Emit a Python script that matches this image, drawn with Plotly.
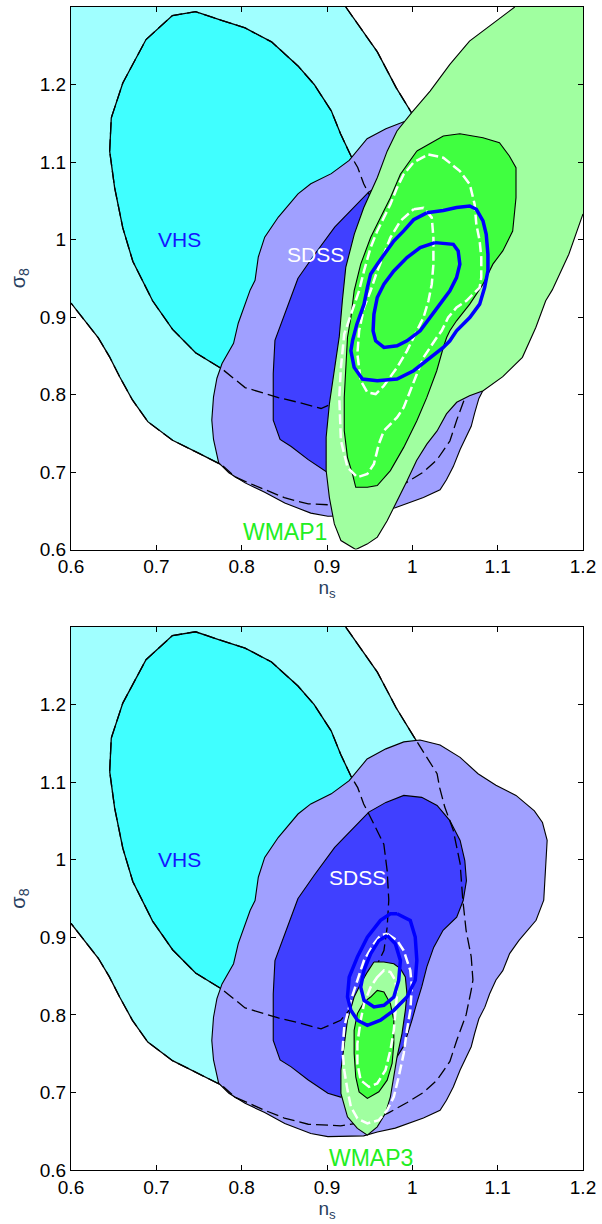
import plotly.graph_objects as go

# ---------------- data (n_s, sigma_8) ----------------
X_TICKS = [0.6, 0.7, 0.8, 0.9, 1.0, 1.1, 1.2]
X_TICK_TEXT = ["0.6", "0.7", "0.8", "0.9", "1", "1.1", "1.2"]
Y_TICKS = [0.6, 0.7, 0.8, 0.9, 1.0, 1.1, 1.2]
Y_TICK_TEXT = ["0.6", "0.7", "0.8", "0.9", "1", "1.1", "1.2"]

# VHS outer (open contour: from top edge to left edge)
VHS_OUTER = [(0.922, 1.300), (0.949, 1.258), (0.959, 1.242), (0.971, 1.217), (0.981, 1.196),
             (1.001, 1.160), (1.029, 1.111), (1.032, 1.093), (1.038, 1.068), (1.048, 1.038),
             (1.056, 0.995), (1.059, 0.950), (1.063, 0.909), (1.069, 0.875), (1.071, 0.845),
             (1.069, 0.832), (1.063, 0.800), (1.052, 0.767), (1.044, 0.740), (1.029, 0.716),
             (1.013, 0.700), (0.994, 0.687), (0.971, 0.673), (0.945, 0.662), (0.916, 0.657),
             (0.878, 0.659), (0.866, 0.662), (0.850, 0.667), (0.827, 0.677), (0.808, 0.686),
             (0.792, 0.694), (0.777, 0.709), (0.750, 0.724), (0.719, 0.741), (0.690, 0.765),
             (0.672, 0.793), (0.657, 0.823), (0.645, 0.849), (0.632, 0.873), (0.600, 0.918)]
VHS_OUTER_CORNER = (0.6, 1.3)

VHS_INNER = [(0.6453, 1.114), (0.6472, 1.157), (0.6607, 1.202), (0.6879, 1.258), (0.7188, 1.289),
             (0.746, 1.294), (0.773, 1.284), (0.804, 1.273), (0.835, 1.255), (0.866, 1.224),
             (0.885, 1.200), (0.905, 1.166), (0.916, 1.136), (0.928, 1.108), (0.936, 1.093),
             (0.943, 1.072), (0.955, 1.046), (0.9666, 1.020), (0.9705, 0.986), (0.9724, 0.948),
             (0.9705, 0.913), (0.9667, 0.883), (0.952, 0.850), (0.933, 0.815), (0.916, 0.793),
             (0.893, 0.782), (0.866, 0.790), (0.843, 0.796), (0.804, 0.809), (0.777, 0.833),
             (0.746, 0.854), (0.719, 0.884), (0.6956, 0.921), (0.6724, 0.972), (0.6607, 1.015),
             (0.6511, 1.067), (0.6453, 1.114)]

SDSS_OUTER = [(0.843, 1.029), (0.866, 1.059), (0.881, 1.072), (0.905, 1.085), (0.926, 1.102),
              (0.947, 1.130), (0.969, 1.143), (0.990, 1.152), (1.009, 1.1545), (1.0325, 1.148),
              (1.056, 1.132), (1.077, 1.111), (1.098, 1.096), (1.1215, 1.083), (1.143, 1.063),
              (1.1525, 1.048), (1.158, 1.025), (1.156, 0.986), (1.154, 0.948), (1.145, 0.922),
              (1.125, 0.896), (1.114, 0.879), (1.106, 0.857), (1.098, 0.845), (1.0905, 0.827),
              (1.085, 0.810), (1.078, 0.795), (1.073, 0.776), (1.069, 0.759), (1.056, 0.729),
              (1.048, 0.707), (1.040, 0.690), (1.0325, 0.677), (1.013, 0.667), (0.994, 0.660),
              (0.980, 0.654), (0.959, 0.649), (0.943, 0.644), (0.901, 0.643), (0.881, 0.647),
              (0.8505, 0.660), (0.827, 0.674), (0.804, 0.686), (0.785, 0.699), (0.773, 0.712),
              (0.767, 0.742), (0.765, 0.767), (0.767, 0.797), (0.771, 0.821), (0.777, 0.840),
              (0.7905, 0.866), (0.796, 0.892), (0.810, 0.935), (0.8157, 0.9475), (0.8195, 0.9775),
              (0.827, 1.003), (0.843, 1.029)]

SDSS_INNER = [(0.866, 0.950), (0.885, 0.980), (0.909, 1.016), (0.928, 1.038), (0.949, 1.0615),
              (0.969, 1.074), (0.990, 1.083), (1.011, 1.0805), (1.029, 1.070), (1.044, 1.0505),
              (1.056, 1.025), (1.0615, 0.999), (1.0634, 0.973), (1.0596, 0.9475), (1.052, 0.926),
              (1.036, 0.909), (1.025, 0.887), (1.017, 0.862), (1.011, 0.836), (1.005, 0.8145),
              (0.9995, 0.793), (0.990, 0.760), (0.972, 0.728), (0.948, 0.705), (0.916, 0.694),
              (0.901, 0.699), (0.878, 0.716), (0.858, 0.733), (0.845, 0.742), (0.837, 0.767),
              (0.837, 0.827), (0.839, 0.870), (0.8505, 0.905), (0.866, 0.950)]

# WMAP1 (top panel); outer contour is open: from right edge round the bottom to the top edge
WMAP1_OUTER = [(1.2, 1.033), (1.1834, 0.981), (1.164, 0.935), (1.1563, 0.921), (1.1447, 0.8865),
               (1.129, 0.848), (1.106, 0.823), (1.083, 0.805), (1.067, 0.7985), (1.052, 0.790),
               (1.040, 0.775), (1.029, 0.753), (1.017, 0.736), (1.005, 0.715), (0.994, 0.689),
               (0.982, 0.663), (0.9705, 0.637), (0.959, 0.616), (0.947, 0.607), (0.9337, 0.600),
               (0.9163, 0.6116), (0.9086, 0.633), (0.9028, 0.667), (0.899, 0.702), (0.899, 0.745),
               (0.9028, 0.788), (0.9086, 0.831), (0.9144, 0.875), (0.918, 0.921), (0.922, 0.964),
               (0.932, 1.007), (0.943, 1.041), (0.959, 1.080), (0.9705, 1.114), (0.982, 1.140),
               (0.9995, 1.164), (1.0208, 1.1915), (1.044, 1.226), (1.067, 1.256), (1.098, 1.282),
               (1.12, 1.300)]
WMAP1_OUTER_CORNER = (1.2, 1.3)

WMAP1_INNER = [(1.0053, 1.1142), (1.0363, 1.1335), (1.0557, 1.1365), (1.0828, 1.1314), (1.1021, 1.1249),
               (1.1137, 1.1077), (1.1215, 1.0926), (1.1215, 1.054), (1.1176, 1.011), (1.106, 0.9853),
               (1.0944, 0.9682), (1.0828, 0.9424), (1.0673, 0.9166), (1.0518, 0.8951), (1.044, 0.8822),
               (1.0402, 0.8736), (1.0363, 0.8607), (1.0286, 0.8307), (1.017, 0.7963), (1.0053, 0.7662),
               (0.9899, 0.7318), (0.9743, 0.7018), (0.9589, 0.6825), (0.9473, 0.6803), (0.9337, 0.6803),
               (0.9298, 0.6976), (0.924, 0.719), (0.9202, 0.7534), (0.9202, 0.7963), (0.922, 0.8393),
               (0.924, 0.8736), (0.928, 0.8994), (0.9318, 0.9338), (0.9395, 0.9682), (0.9511, 1.0025),
               (0.9627, 1.0283), (0.9743, 1.054), (0.986, 1.0842), (1.0053, 1.1142)]

WMAP1_WHITE_OUTER = [(1.0188, 1.1097), (1.0363, 1.1056), (1.0557, 1.0884), (1.0673, 1.0713), (1.073, 1.0455),
                     (1.075, 1.0197), (1.0789, 0.9982), (1.0808, 0.9767), (1.0808, 0.951), (1.0789, 0.938),
                     (1.0634, 0.9209), (1.0518, 0.9123), (1.042, 0.8994), (1.0344, 0.8822), (1.0286, 0.8736),
                     (1.0208, 0.8607), (1.0131, 0.8478), (1.0053, 0.8264), (0.9976, 0.8049), (0.9899, 0.7834),
                     (0.9821, 0.7705), (0.9667, 0.7534), (0.9608, 0.7362), (0.955, 0.7104), (0.9473, 0.6976),
                     (0.9356, 0.6932), (0.924, 0.7061), (0.9163, 0.7405), (0.9144, 0.7963), (0.9163, 0.835),
                     (0.9202, 0.878), (0.9298, 0.908), (0.9376, 0.9338), (0.9434, 0.9595), (0.9511, 0.9896),
                     (0.9589, 1.0111), (0.9667, 1.0283), (0.9743, 1.0455), (0.9821, 1.067), (0.9899, 1.0842),
                     (1.0015, 1.0997), (1.0188, 1.1097)]

WMAP1_WHITE_INNER = [(1.0015, 1.039), (1.0131, 1.0408), (1.0228, 1.0283), (1.0247, 1.0025), (1.0247, 0.9682),
                     (1.0228, 0.9424), (1.0189, 0.9209), (1.0131, 0.8994), (1.0053, 0.8822), (1.0015, 0.8736),
                     (0.9937, 0.8564), (0.9821, 0.8349), (0.9667, 0.8113), (0.957, 0.8006), (0.9473, 0.8027),
                     (0.9395, 0.8178), (0.9356, 0.8522), (0.9376, 0.8822), (0.9434, 0.9123), (0.9511, 0.9338),
                     (0.9589, 0.9595), (0.9667, 0.981), (0.9743, 1.0025), (0.986, 1.024), (1.0015, 1.039)]

WMAP1_BLUE_OUTER = [(1.0169, 1.0344), (1.0363, 1.0374), (1.0518, 1.0412), (1.0673, 1.0433), (1.075, 1.039),
                    (1.0828, 1.024), (1.0866, 1.0068), (1.0886, 0.981), (1.0886, 0.9595), (1.0847, 0.938),
                    (1.0789, 0.9166), (1.0673, 0.8994), (1.0518, 0.8822), (1.044, 0.8693), (1.0363, 0.8607),
                    (1.0208, 0.8478), (1.0015, 0.8307), (0.9821, 0.820), (0.9589, 0.8178), (0.9415, 0.820),
                    (0.9318, 0.835), (0.928, 0.8564), (0.930, 0.870), (0.935, 0.8908), (0.9434, 0.9166),
                    (0.9473, 0.938), (0.9511, 0.9553), (0.9589, 0.9682), (0.9667, 0.981), (0.9783, 0.9982),
                    (0.9899, 1.0111), (1.0015, 1.0255), (1.0169, 1.0344)]

WMAP1_BLUE_INNER = [(1.0266, 0.996), (1.048, 0.9938), (1.0537, 0.9853), (1.0557, 0.9682), (1.0518, 0.9509),
                    (1.044, 0.9338), (1.0324, 0.9166), (1.0208, 0.8994), (1.0092, 0.8822), (0.9937, 0.8693),
                    (0.9821, 0.8629), (0.9667, 0.8607), (0.957, 0.8693), (0.954, 0.8822), (0.955, 0.9037),
                    (0.9589, 0.9252), (0.9667, 0.9424), (0.9783, 0.9595), (0.9937, 0.9767), (1.0092, 0.9896),
                    (1.0266, 0.996)]

# WMAP3 (bottom panel)
WMAP3_OUTER = [(0.955, 0.8681), (0.9667, 0.8681), (0.9783, 0.866), (0.986, 0.8596), (0.9918, 0.8488),
               (0.9937, 0.8274), (0.9918, 0.8059), (0.9879, 0.7759), (0.9821, 0.7458), (0.9783, 0.7201),
               (0.9743, 0.6943), (0.9685, 0.673), (0.9589, 0.6557), (0.9473, 0.645), (0.9356, 0.6537),
               (0.924, 0.6686), (0.9163, 0.6987), (0.9163, 0.7287), (0.9202, 0.7631), (0.924, 0.7931),
               (0.9318, 0.823), (0.9395, 0.8402), (0.9473, 0.8552), (0.955, 0.8681)]

WMAP3_INNER = [(0.9511, 0.823), (0.9589, 0.8316), (0.9667, 0.8295), (0.9743, 0.8145), (0.9783, 0.7931),
               (0.9783, 0.763), (0.9763, 0.7373), (0.9705, 0.7158), (0.9608, 0.7008), (0.9473, 0.6923),
               (0.9376, 0.7008), (0.9337, 0.7201), (0.9318, 0.7502), (0.9318, 0.7802), (0.9356, 0.8017),
               (0.9434, 0.8167), (0.9511, 0.823)]

WMAP3_WHITE_OUTER = [(0.9705, 0.9046), (0.9821, 0.896), (0.9899, 0.8831), (0.9976, 0.8574), (0.9995, 0.8359),
                     (0.9976, 0.8059), (0.9937, 0.7802), (0.9899, 0.7502), (0.984, 0.7201), (0.9783, 0.6943),
                     (0.9705, 0.6772), (0.9608, 0.6643), (0.9473, 0.6601), (0.9356, 0.6665), (0.928, 0.6815),
                     (0.924, 0.703), (0.9202, 0.7287), (0.9182, 0.7544), (0.9202, 0.7844), (0.928, 0.8188),
                     (0.9356, 0.8445), (0.9434, 0.8703), (0.955, 0.8918), (0.9627, 0.9025), (0.9705, 0.9046)]

WMAP3_WHITE_INNER = [(0.9589, 0.8488), (0.9667, 0.8574), (0.9743, 0.8552), (0.9801, 0.8445), (0.9821, 0.8274),
                     (0.9801, 0.8059), (0.9783, 0.7802), (0.9743, 0.7544), (0.9685, 0.7287), (0.9589, 0.7116),
                     (0.9492, 0.7072), (0.9395, 0.7158), (0.9356, 0.7373), (0.9356, 0.763), (0.9395, 0.7931),
                     (0.9434, 0.8145), (0.9511, 0.8359), (0.9589, 0.8488)]

WMAP3_BLUE_OUTER = [(0.9821, 0.9304), (0.9976, 0.9218), (1.0034, 0.9003), (1.0053, 0.8703), (1.0034, 0.8445),
                    (0.9937, 0.8231), (0.9783, 0.8059), (0.9627, 0.7931), (0.9473, 0.7866), (0.9356, 0.7931),
                    (0.928, 0.8059), (0.924, 0.8231), (0.926, 0.8488), (0.9356, 0.8746), (0.9473, 0.9003),
                    (0.9627, 0.9218), (0.9743, 0.9304), (0.9821, 0.9304)]

WMAP3_BLUE_INNER = [(0.9705, 0.9025), (0.9801, 0.8918), (0.986, 0.8703), (0.984, 0.8445), (0.9783, 0.8231),
                    (0.9667, 0.8124), (0.955, 0.8102), (0.9434, 0.8188), (0.9395, 0.8359), (0.9434, 0.8574),
                    (0.9511, 0.8788), (0.9608, 0.896), (0.9705, 0.9025)]

LABELS_TOP = [("VHS", 0.7266, 1.0, "#1515FF", 21), ("SDSS", 0.886, 0.981, "#FFFFFF", 21),
              ("WMAP1", 0.851, 0.622, "#22EE22", 23)]
LABELS_BOTTOM = [("VHS", 0.7266, 1.0, "#1515FF", 21), ("SDSS", 0.9356, 0.977, "#FFFFFF", 21),
                 ("WMAP3", 0.951, 0.615, "#22EE22", 23)]

# ---------------- styles ----------------
C_VHS_OUT, C_VHS_IN = "#A0FFFF", "#40FFFF"
C_SDSS_OUT, C_SDSS_IN = "#A0A0FF", "#4040FF"
C_WMAP_OUT, C_WMAP_IN = "#A0FFA0", "#40FF40"
FONT = "Liberation Sans, Arial, Helvetica, sans-serif"


def xs(pts):
    return [p[0] for p in pts]


def ys(pts):
    return [p[1] for p in pts]


fig = go.Figure()


def fill(pts, color, xa, ya, outline=True):
    fig.add_trace(go.Scatter(x=xs(pts), y=ys(pts), mode="lines", fill="toself", fillcolor=color,
                             line=dict(color="black" if outline else color, width=1.1 if outline else 0),
                             hoverinfo="skip", showlegend=False, xaxis=xa, yaxis=ya))


def line(pts, color, width, dash, xa, ya):
    fig.add_trace(go.Scatter(x=xs(pts), y=ys(pts), mode="lines",
                             line=dict(color=color, width=width, dash=dash),
                             hoverinfo="skip", showlegend=False, xaxis=xa, yaxis=ya))


def panel(xa, ya, wout, win, wout_corner, white_out, white_in, blue_out, blue_in):
    # VHS
    fill(VHS_OUTER + [VHS_OUTER_CORNER], C_VHS_OUT, xa, ya, outline=False)
    fill(VHS_INNER, C_VHS_IN, xa, ya, outline=False)
    line(VHS_OUTER, "black", 1.3, "solid", xa, ya)
    line(VHS_INNER, "black", 1.3, "solid", xa, ya)
    # SDSS
    fill(SDSS_OUTER, C_SDSS_OUT, xa, ya)
    fill(SDSS_INNER, C_SDSS_IN, xa, ya)
    # hidden VHS contours dashed
    line(VHS_OUTER, "black", 1.3, "12px,5px", xa, ya)
    line(VHS_INNER, "black", 1.3, "12px,5px", xa, ya)
    # WMAP
    if wout_corner is not None:
        fill(wout + [wout_corner], C_WMAP_OUT, xa, ya, outline=False)
        line(wout, "black", 1.1, "solid", xa, ya)
    else:
        fill(wout, C_WMAP_OUT, xa, ya)
    fill(win, C_WMAP_IN, xa, ya)
    line(white_out, "white", 2.5, "10px,4px", xa, ya)
    line(white_in, "white", 2.5, "10px,4px", xa, ya)
    line(blue_out, "#0000FF", 3.5, "solid", xa, ya)
    line(blue_in, "#0000FF", 3.5, "solid", xa, ya)


panel("x", "y", WMAP1_OUTER, WMAP1_INNER, WMAP1_OUTER_CORNER,
      WMAP1_WHITE_OUTER, WMAP1_WHITE_INNER, WMAP1_BLUE_OUTER, WMAP1_BLUE_INNER)
panel("x2", "y2", WMAP3_OUTER, WMAP3_INNER, None,
      WMAP3_WHITE_OUTER, WMAP3_WHITE_INNER, WMAP3_BLUE_OUTER, WMAP3_BLUE_INNER)

annotations = []
for (txt, x, y, col, sz), (xr, yr) in [(l, ("x", "y")) for l in LABELS_TOP] + [(l, ("x2", "y2")) for l in LABELS_BOTTOM]:
    annotations.append(dict(text=txt, x=x, y=y, xref=xr, yref=yr, showarrow=False,
                            font=dict(family=FONT, size=sz, color=col)))

axis_common = dict(showline=True, linecolor="black", linewidth=1, mirror="ticks", ticks="inside",
                   ticklen=5, tickcolor="black", showgrid=False, zeroline=False,
                   tickfont=dict(family=FONT, size=19, color="black"))

fig.update_layout(
    width=602, height=1224,
    margin=dict(l=71, r=15, t=6, b=54),
    paper_bgcolor="white", plot_bgcolor="white",
    annotations=annotations,
    xaxis=dict(range=[0.6, 1.2], tickvals=X_TICKS, ticktext=X_TICK_TEXT, anchor="y",
               title=dict(text="n<sub>s</sub>", font=dict(family=FONT, size=19), standoff=0), **axis_common),
    yaxis=dict(range=[0.6, 1.3], tickvals=Y_TICKS, ticktext=Y_TICK_TEXT, anchor="x", domain=[0.5335, 1.0],
               title=dict(text="σ<sub>8</sub>", font=dict(family=FONT, size=20), standoff=8), **axis_common),
    xaxis2=dict(range=[0.6, 1.2], tickvals=X_TICKS, ticktext=X_TICK_TEXT, anchor="y2",
                title=dict(text="n<sub>s</sub>", font=dict(family=FONT, size=19), standoff=0), **axis_common),
    yaxis2=dict(range=[0.6, 1.3], tickvals=Y_TICKS, ticktext=Y_TICK_TEXT, anchor="x2", domain=[0.0, 0.4668],
                title=dict(text="σ<sub>8</sub>", font=dict(family=FONT, size=20), standoff=8), **axis_common),
)

fig.write_html("out.html", config={"displayModeBar": False},
               post_script="document.body.style.margin='0';document.body.style.overflow='hidden';")
